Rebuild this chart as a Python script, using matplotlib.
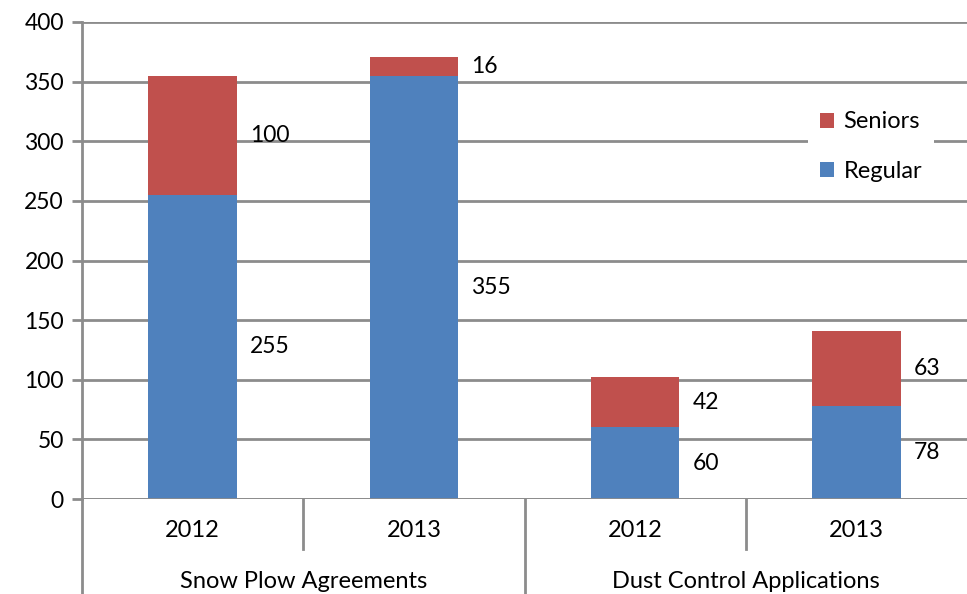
import numpy as np
import matplotlib.pyplot as plt
import matplotlib.transforms as mtransforms

plt.rcParams["font.family"] = ["Lato", "DejaVu Sans"]

years = ["2012", "2013", "2012", "2013"]
groups = ["Snow Plow Agreements", "Dust Control Applications"]
regular = [255, 355, 60, 78]
seniors = [100, 16, 42, 63]

blue = "#4F81BD"
red = "#C0504D"
grey = "#8C8C8C"

fig = plt.figure(figsize=(9.67, 5.94), dpi=100)
ax = fig.add_axes([82 / 967, 95 / 594, 1 - 82 / 967, 477 / 594])

x = np.arange(len(years))
w = 0.4
ax.bar(x, regular, w, color=blue, label="Regular", zorder=3)
ax.bar(x, seniors, w, bottom=regular, color=red, label="Seniors", zorder=3)

for i in range(len(x)):
    ax.text(x[i] + w / 2 + 0.06, regular[i] / 2, str(regular[i]),
            fontsize=16.5, va="center", ha="left")
    ax.text(x[i] + w / 2 + 0.06, regular[i] + seniors[i] / 2, str(seniors[i]),
            fontsize=16.5, va="center", ha="left")

ax.set_xlim(-0.5, 3.5)
ax.set_ylim(0, 400)
ax.set_yticks(range(0, 401, 50))
ax.tick_params(axis="y", labelsize=16.5, length=7, width=2, color=grey, pad=6)
ax.set_xticks([])
ax.yaxis.grid(True, color=grey, linewidth=2, zorder=0)
for s in ["top", "right", "bottom"]:
    ax.spines[s].set_visible(False)
ax.spines["left"].set_color(grey)
ax.spines["left"].set_linewidth(2)
ax.axhline(0, color=grey, linewidth=2, zorder=4)

trans = mtransforms.blended_transform_factory(ax.transData, ax.transAxes)
# left axis runs down through the category area
ax.plot([-0.5, -0.5], [0, -0.2], transform=trans, color=grey, lw=2, clip_on=False)
# separators between years and groups
for sx, bottom in [(0.5, -0.105), (1.5, -0.2), (2.5, -0.105)]:
    ax.plot([sx, sx], [0, bottom], transform=trans, color=grey, lw=2, clip_on=False)

for i in range(len(x)):
    ax.text(x[i], -0.067, years[i], transform=trans, ha="center", va="center", fontsize=17)
for g in range(len(groups)):
    ax.text(2 * g + 0.5, -0.172, groups[g], transform=trans, ha="center", va="center", fontsize=17)

handles, labels = ax.get_legend_handles_labels()
leg = ax.legend(handles[::-1], labels[::-1], loc="upper right", bbox_to_anchor=(0.976, 0.862),
                frameon=True, fontsize=17, handlelength=0.6, handleheight=0.6,
                labelspacing=1.2, handletextpad=0.4, borderpad=0.5)
leg.get_frame().set_edgecolor("none")
leg.get_frame().set_facecolor("white")
leg.get_frame().set_alpha(1)
leg.set_zorder(5)

fig.savefig("out.png", dpi=100)
